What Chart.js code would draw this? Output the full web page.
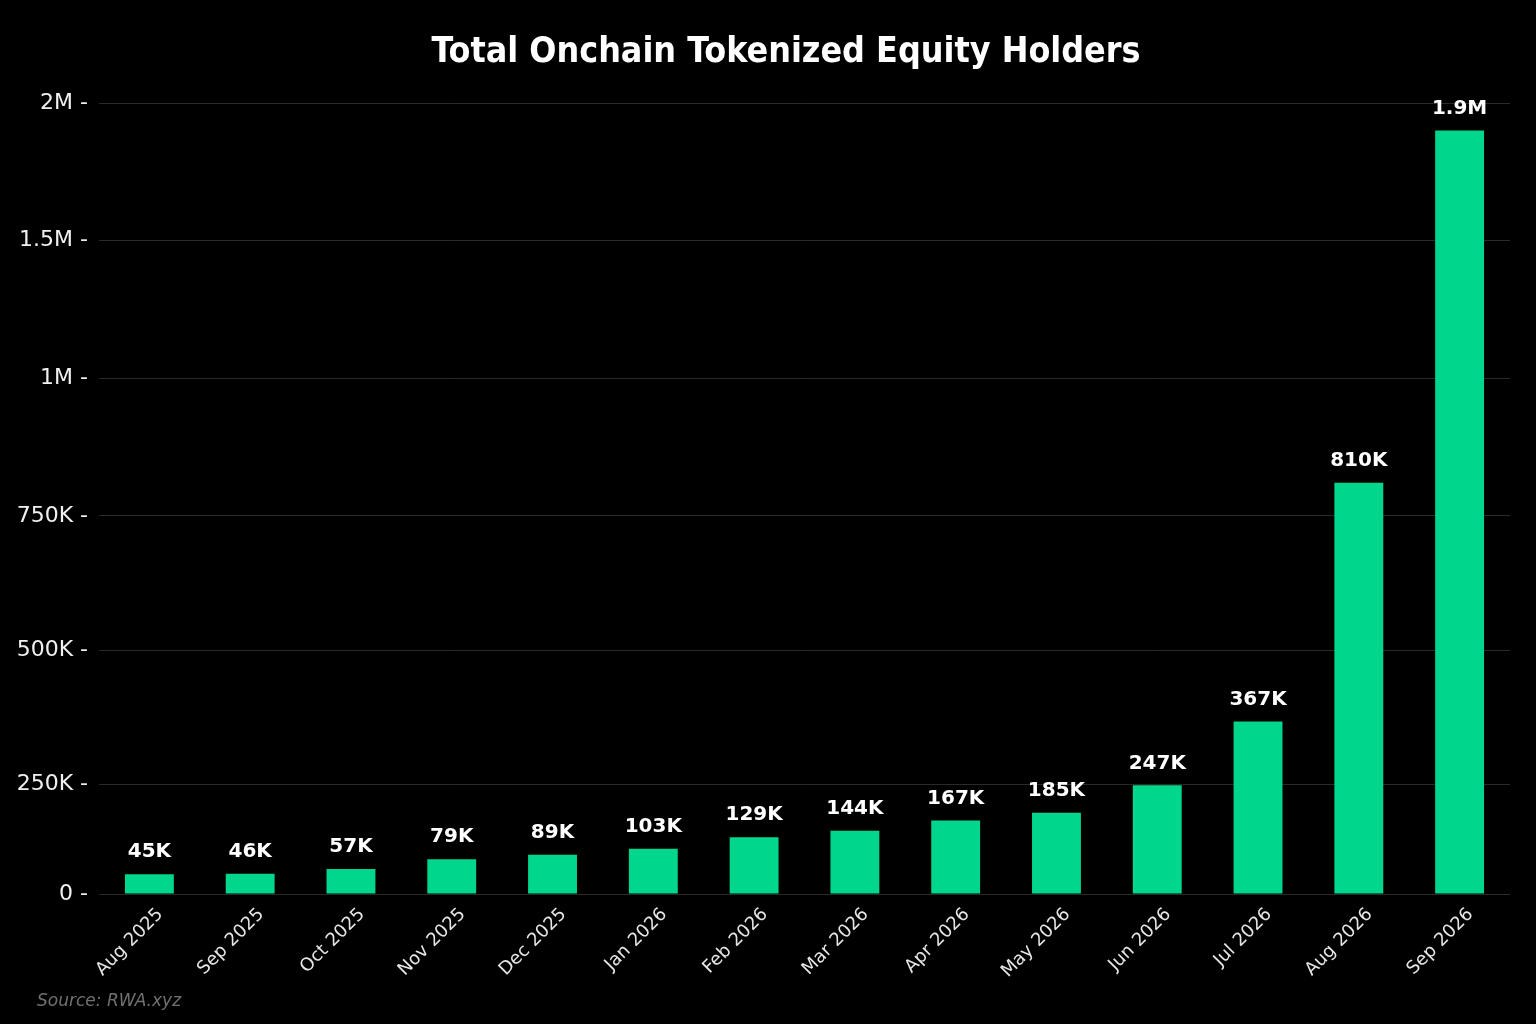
<!DOCTYPE html>
<html>
<head>
<meta charset="utf-8">
<script src="https://cdn.jsdelivr.net/npm/chart.js@4.4.1/dist/chart.umd.min.js"></script>
<style>
  html, body { margin: 0; padding: 0; background: #000; }
  #wrap { position: relative; width: 1536px; height: 1024px; }
  #title {
    position: absolute; left: 786px; top: 29px; transform: translateX(-50%);
    white-space: nowrap; line-height: 35px;
    font: bold 35.5px "DejaVu Sans Condensed", "DejaVu Sans", sans-serif; color: #fff;
  }
  #source {
    position: absolute; left: 37px; top: 990px;
    font: italic 17px "DejaVu Sans", sans-serif; color: #707070;
  }
</style>
</head>
<body>
<div id="wrap">
  <canvas id="chart" width="1536" height="1024"></canvas>
  <div id="title">Total Onchain Tokenized Equity Holders</div>
  <div id="source">Source: RWA.xyz</div>
</div>
<script>
const months = ["Aug 2025", "Sep 2025", "Oct 2025", "Nov 2025", "Dec 2025", "Jan 2026", "Feb 2026",
  "Mar 2026", "Apr 2026", "May 2026", "Jun 2026", "Jul 2026", "Aug 2026", "Sep 2026"];
const holders = [45000, 46000, 57000, 79000, 89000, 103000, 129000, 144000, 167000, 185000,
  247000, 367000, 810000, 1900000];
const yTicks = [0, 250000, 500000, 750000, 1000000, 1500000, 2000000];

// where each y tick sits along the axis (0 = bottom, 1 = top), the axis is not linear
const tickStops = [0, 0.139, 0.308, 0.478, 0.652, 0.826, 1];

function fmt(v) {
  if (v >= 1e6) return (v / 1e6).toFixed(v % 1e6 === 0 ? 0 : 1) + "M";
  if (v >= 1e3) return Math.round(v / 1e3) + "K";
  return String(v);
}

// Piecewise linear scale so the ticks land where they do in the original
class PiecewiseScale extends Chart.LinearScale {
  getPixelForValue(value) {
    let i = 0;
    while (i < yTicks.length - 2 && value > yTicks[i + 1]) i++;
    const f = (value - yTicks[i]) / (yTicks[i + 1] - yTicks[i]);
    const d = tickStops[i] + f * (tickStops[i + 1] - tickStops[i]);
    return this.getPixelForDecimal(d);
  }
  getValueForPixel(pixel) {
    const d = this.getDecimalForPixel(pixel);
    let i = 0;
    while (i < tickStops.length - 2 && d > tickStops[i + 1]) i++;
    const f = (d - tickStops[i]) / (tickStops[i + 1] - tickStops[i]);
    return yTicks[i] + f * (yTicks[i + 1] - yTicks[i]);
  }
}
PiecewiseScale.id = "piecewise";
PiecewiseScale.defaults = Chart.LinearScale.defaults;
Chart.register(PiecewiseScale);

// Value labels above the bars
const barLabels = {
  id: "barLabels",
  afterDatasetsDraw(chart) {
    const ctx = chart.ctx;
    const meta = chart.getDatasetMeta(0);
    ctx.save();
    ctx.fillStyle = "#ffffff";
    ctx.font = "bold 20px 'DejaVu Sans', sans-serif";
    ctx.textAlign = "center";
    ctx.textBaseline = "bottom";
    meta.data.forEach((bar, i) => {
      ctx.fillText(fmt(holders[i]), bar.x, bar.y - 12);
    });
    ctx.restore();
  }
};

new Chart(document.getElementById("chart"), {
  type: "bar",
  data: {
    labels: months,
    datasets: [{
      data: holders,
      backgroundColor: "#00d68c",
      barPercentage: 0.485,
      categoryPercentage: 1
    }]
  },
  options: {
    responsive: false,
    animation: false,
    layout: { padding: { top: 103, right: 26, bottom: 0, left: 0 } },
    plugins: {
      legend: { display: false },
      tooltip: { enabled: false },
      title: { display: false }
    },
    scales: {
      x: {
        grid: { display: false },
        border: { display: false },
        ticks: {
          color: "#e6e6e6",
          font: { family: "'DejaVu Sans', sans-serif", size: 18 },
          maxRotation: 45,
          minRotation: 45,
          labelOffset: 11,
          padding: 2
        },
        afterFit(scale) { scale.height = 130; }
      },
      y: {
        type: "piecewise",
        min: 0,
        max: 2000000,
        afterBuildTicks(scale) {
          scale.ticks = yTicks.map(v => ({ value: v }));
        },
        afterFit(scale) { scale.width = 99; },
        grid: { color: "#2a2a2a", drawTicks: false, lineWidth: 1 },
        border: { display: false },
        ticks: {
          color: "#f0f0f0",
          font: { family: "'DejaVu Sans', sans-serif", size: 22 },
          padding: 11,
          callback: (v) => fmt(v) + " -"
        }
      }
    }
  },
  plugins: [barLabels]
});
</script>
</body>
</html>
